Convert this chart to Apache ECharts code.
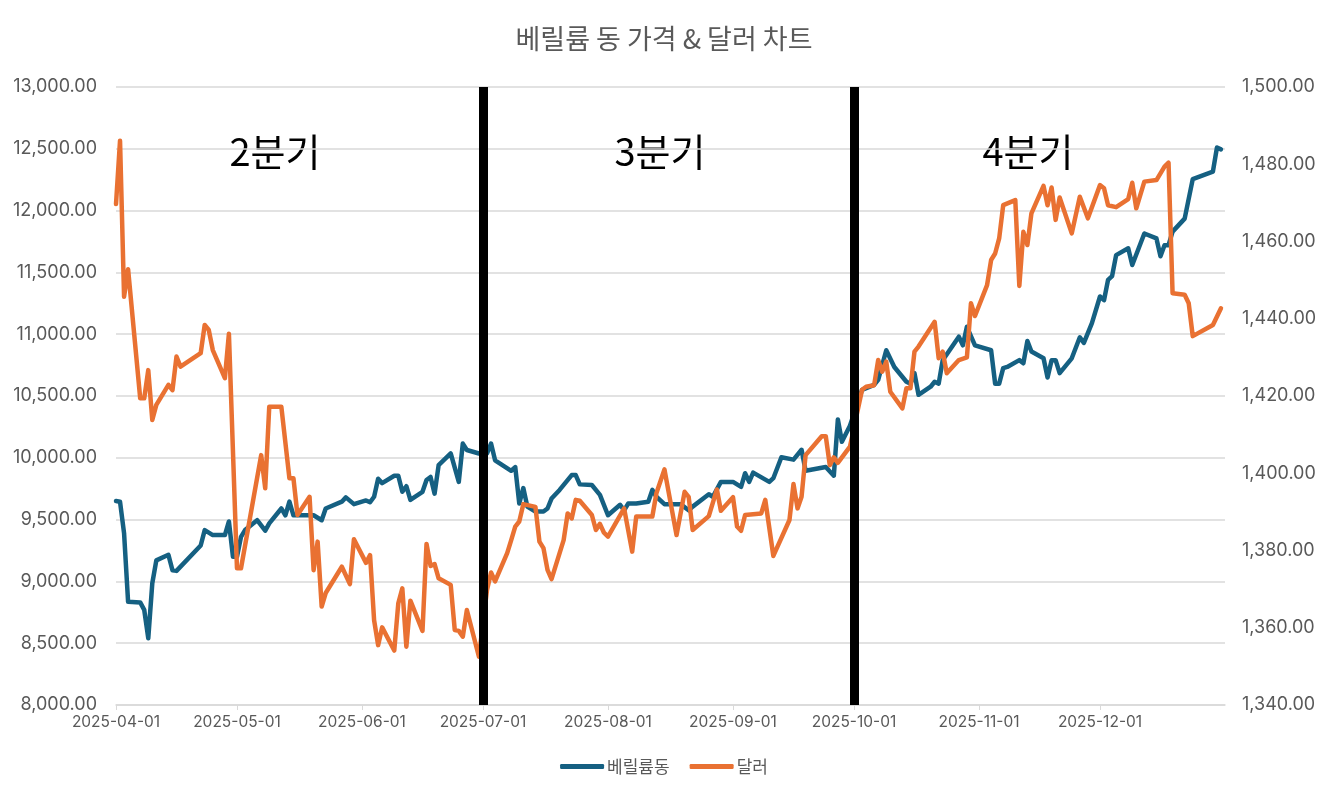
<!DOCTYPE html>
<html>
<head>
<meta charset="utf-8">
<script src="https://cdn.jsdelivr.net/npm/echarts@6/dist/echarts.min.js"></script>
<style>
  html, body { margin: 0; padding: 0; background: #fff; }
  #chart { width: 1328px; height: 797px; }
</style>
</head>
<body>
<div id="chart"></div>
<script>
// 베릴륨동 (left axis)
var cuDates = ['2025-04-01','2025-04-02','2025-04-03','2025-04-04','2025-04-07','2025-04-08','2025-04-09','2025-04-10','2025-04-11','2025-04-14','2025-04-15','2025-04-16','2025-04-22','2025-04-23','2025-04-25','2025-04-28','2025-04-29','2025-04-30',
  '2025-05-01','2025-05-02','2025-05-03','2025-05-06','2025-05-08','2025-05-09','2025-05-12','2025-05-13','2025-05-14','2025-05-15','2025-05-20','2025-05-22','2025-05-23','2025-05-27','2025-05-28','2025-05-30',
  '2025-06-02','2025-06-03','2025-06-04','2025-06-05','2025-06-06','2025-06-09','2025-06-10','2025-06-11','2025-06-12','2025-06-13','2025-06-16','2025-06-17','2025-06-18','2025-06-19','2025-06-20','2025-06-23','2025-06-25','2025-06-26','2025-06-27','2025-06-30',
  '2025-07-01','2025-07-02','2025-07-03','2025-07-04','2025-07-08','2025-07-09','2025-07-10','2025-07-11','2025-07-12','2025-07-14','2025-07-16','2025-07-17','2025-07-18','2025-07-20','2025-07-23','2025-07-24','2025-07-25','2025-07-28','2025-07-30',
  '2025-08-01','2025-08-04','2025-08-05','2025-08-06','2025-08-08','2025-08-11','2025-08-12','2025-08-13','2025-08-15','2025-08-19','2025-08-21','2025-08-22','2025-08-26','2025-08-27','2025-08-29',
  '2025-09-01','2025-09-03','2025-09-04','2025-09-05','2025-09-06','2025-09-10','2025-09-11','2025-09-13','2025-09-16','2025-09-18','2025-09-19','2025-09-24','2025-09-26','2025-09-27','2025-09-28','2025-09-30',
  '2025-10-03','2025-10-06','2025-10-07','2025-10-09','2025-10-11','2025-10-14','2025-10-15','2025-10-16','2025-10-17','2025-10-20','2025-10-21','2025-10-22','2025-10-23','2025-10-27','2025-10-28','2025-10-29','2025-10-31',
  '2025-11-04','2025-11-05','2025-11-06','2025-11-07','2025-11-08','2025-11-11','2025-11-12','2025-11-13','2025-11-14','2025-11-17','2025-11-18','2025-11-19','2025-11-20','2025-11-21','2025-11-24','2025-11-26','2025-11-27','2025-11-29',
  '2025-12-01','2025-12-02','2025-12-03','2025-12-04','2025-12-05','2025-12-08','2025-12-09','2025-12-12','2025-12-15','2025-12-16','2025-12-17','2025-12-18','2025-12-19','2025-12-22','2025-12-24','2025-12-29','2025-12-30','2025-12-31'];
var cuValues = [9650,9645,9390,8835,8830,8770,8540,8985,9170,9215,9090,9085,9290,9415,9375,9375,9485,9200,
  9200,9360,9415,9495,9410,9470,9590,9535,9645,9535,9535,9495,9590,9645,9680,9625,
  9655,9640,9685,9830,9795,9855,9855,9725,9770,9660,9725,9820,9845,9710,9940,10035,9805,10115,10063,10035,
  10035,10035,10115,9980,9895,9925,9630,9755,9605,9565,9565,9590,9670,9740,9860,9860,9785,9780,9700,
  9535,9620,9575,9630,9630,9645,9740,9685,9625,9625,9575,9605,9705,9685,9805,
  9805,9765,9875,9805,9880,9805,9835,10005,9985,10065,9895,9925,9855,10310,10130,10260,
  10550,10590,10630,10870,10735,10615,10600,10685,10510,10575,10615,10600,10790,10980,10910,11060,10910,
  10870,10600,10600,10725,10735,10790,10765,10945,10860,10805,10650,10790,10790,10685,10805,10975,10930,11090,
  11305,11275,11440,11470,11640,11695,11560,11815,11775,11630,11720,11720,11830,11935,12255,12315,12510,12495];

// 달러 (right axis)
var usdDates = ['2025-04-01','2025-04-02','2025-04-03','2025-04-04','2025-04-07','2025-04-08','2025-04-09','2025-04-10','2025-04-11','2025-04-14','2025-04-15','2025-04-16','2025-04-17','2025-04-22','2025-04-23','2025-04-24','2025-04-25','2025-04-28','2025-04-29',
  '2025-05-01','2025-05-02','2025-05-07','2025-05-08','2025-05-09','2025-05-12','2025-05-14','2025-05-15','2025-05-16','2025-05-19','2025-05-20','2025-05-21','2025-05-22','2025-05-23','2025-05-27','2025-05-29','2025-05-30',
  '2025-06-02','2025-06-03','2025-06-04','2025-06-05','2025-06-06','2025-06-09','2025-06-10','2025-06-11','2025-06-12','2025-06-13','2025-06-16','2025-06-17','2025-06-18','2025-06-19','2025-06-20','2025-06-23','2025-06-24','2025-06-25','2025-06-26','2025-06-27','2025-06-30',
  '2025-07-02','2025-07-03','2025-07-04','2025-07-07','2025-07-08','2025-07-09','2025-07-10','2025-07-11','2025-07-14','2025-07-15','2025-07-16','2025-07-17','2025-07-18','2025-07-21','2025-07-22','2025-07-23','2025-07-24','2025-07-25','2025-07-28','2025-07-29','2025-07-30','2025-07-31',
  '2025-08-01','2025-08-05','2025-08-07','2025-08-08','2025-08-12','2025-08-13','2025-08-15','2025-08-18','2025-08-20','2025-08-21','2025-08-22','2025-08-26','2025-08-28','2025-08-29',
  '2025-09-01','2025-09-02','2025-09-03','2025-09-04','2025-09-08','2025-09-09','2025-09-11','2025-09-15','2025-09-16','2025-09-17','2025-09-18','2025-09-19','2025-09-23','2025-09-24','2025-09-25','2025-09-26','2025-09-27','2025-09-30',
  '2025-10-03','2025-10-04','2025-10-06','2025-10-07','2025-10-08','2025-10-09','2025-10-10','2025-10-13','2025-10-14','2025-10-15','2025-10-16','2025-10-17','2025-10-21','2025-10-22','2025-10-23','2025-10-24','2025-10-27','2025-10-29','2025-10-30','2025-10-31',
  '2025-11-03','2025-11-04','2025-11-05','2025-11-06','2025-11-07','2025-11-10','2025-11-11','2025-11-12','2025-11-13','2025-11-14','2025-11-17','2025-11-18','2025-11-19','2025-11-20','2025-11-21','2025-11-24','2025-11-26','2025-11-28',
  '2025-12-01','2025-12-02','2025-12-03','2025-12-05','2025-12-08','2025-12-09','2025-12-10','2025-12-12','2025-12-15','2025-12-17','2025-12-18','2025-12-19','2025-12-22','2025-12-23','2025-12-24','2025-12-29','2025-12-31'];
var usdValues = [1469.7,1486.1,1445.7,1452.8,1419.4,1419.4,1426.7,1413.8,1417.7,1422.9,1421.5,1430.2,1427.6,1431.1,1438.4,1437.1,1431.9,1424.6,1436.1,
  1375.4,1375.4,1404.7,1396.1,1417.2,1417.2,1398.7,1398.7,1389.2,1393.9,1374.9,1382.3,1365.5,1369.0,1375.8,1371.3,1382.9,
  1376.8,1378.8,1362.0,1355.5,1360.1,1354.1,1366.3,1370.2,1355.1,1367.0,1359.2,1381.7,1376.0,1376.5,1372.8,1371.1,1359.4,1359.2,1357.7,1364.6,1352.5,
  1369.8,1374.3,1372.0,1379.3,1382.7,1386.2,1387.5,1392.0,1391.3,1382.3,1380.6,1375.0,1372.6,1382.7,1389.6,1388.3,1393.1,1392.9,1389.2,1385.3,1386.9,1384.6,
  1383.6,1390.9,1379.7,1388.8,1388.8,1394.8,1401.0,1384.0,1395.2,1393.9,1385.3,1388.9,1395.8,1390.3,
  1393.8,1386.2,1385.1,1389.2,1389.6,1393.1,1378.6,1387.9,1397.2,1390.9,1393.9,1404.7,1409.6,1409.6,1402.1,1404.1,1402.7,1406.9,
  1421.6,1422.4,1422.8,1429.3,1426.3,1428.9,1421.1,1416.8,1422.0,1422.0,1431.5,1432.8,1439.2,1429.8,1431.5,1425.9,1429.3,1430.0,1444.0,1440.7,
  1448.7,1455.2,1456.9,1460.8,1469.4,1470.7,1448.5,1462.5,1459.1,1467.3,1474.4,1469.4,1474.0,1465.6,1471.4,1462.1,1471.6,1466.0,
  1474.6,1473.8,1469.4,1468.9,1471.0,1475.2,1468.6,1475.5,1475.9,1479.4,1480.4,1446.6,1446.2,1444.0,1435.5,1438.4,1442.7];

var quarterSplits = ['2025-07-01', '2025-10-01'];
var quarterLabels = ['2분기', '3분기', '4분기'];

var zip = function (d, v) { return d.map(function (x, i) { return [x, v[i]]; }); };
var fmt2 = function (v) {
  return v.toLocaleString('en-US', { minimumFractionDigits: 2, maximumFractionDigits: 2 });
};
var pad = function (n) { return (n < 10 ? '0' : '') + n; };

var axisFont = "Inter, 'Noto Sans CJK KR', sans-serif";
var krFont = "'Noto Sans CJK KR', sans-serif";

var chart = echarts.init(document.getElementById('chart'));
var xMax = +new Date('2026-01-01T00:00:00');

chart.setOption({
  animation: false,
  backgroundColor: '#fff',
  title: {
    text: '베릴륨 동 가격 & 달러 차트',
    left: 'center',
    top: 20,
    textStyle: { fontFamily: krFont, fontSize: 27, fontWeight: 'normal', color: '#595959' }
  },
  legend: {
    bottom: 17,
    left: 'center',
    icon: 'roundRect',
    itemWidth: 44,
    itemHeight: 5,
    itemGap: 20,
    itemStyle: { borderWidth: 0 },
    textStyle: { fontFamily: krFont, fontSize: 17, color: '#595959', padding: [0, 0, 0, -2] },
    data: ['베릴륨동', '달러']
  },
  grid: { left: 116, right: 103, top: 87, bottom: 92, containLabel: false },
  xAxis: {
    type: 'time',
    min: '2025-04-01',
    max: xMax,
    minInterval: 28 * 24 * 3600 * 1000,
    maxInterval: 31 * 24 * 3600 * 1000,
    axisLine: { lineStyle: { color: '#d9d9d9', width: 1.5 } },
    axisTick: { show: true, length: 5, lineStyle: { color: '#d9d9d9' } },
    splitLine: { show: false },
    axisLabel: {
      color: '#595959', fontSize: 15.5, fontFamily: axisFont, margin: 10,
      formatter: function (val) {
        var d = new Date(val);
        if (val >= xMax) return '';
        return d.getFullYear() + '-' + pad(d.getMonth() + 1) + '-' + pad(d.getDate());
      }
    }
  },
  yAxis: [{
    type: 'value',
    min: 8000, max: 13000, interval: 500,
    axisLine: { show: false },
    axisTick: { show: false },
    splitLine: { lineStyle: { color: '#d9d9d9', width: 1.5 } },
    axisLabel: { color: '#595959', fontSize: 18, fontFamily: axisFont, margin: 19, formatter: fmt2 }
  }, {
    type: 'value',
    min: 1340, max: 1500, interval: 20,
    axisLine: { show: false },
    axisTick: { show: false },
    splitLine: { show: false },
    axisLabel: { color: '#595959', fontSize: 18, fontFamily: axisFont, margin: 17, formatter: fmt2 }
  }],
  series: [{
    name: '베릴륨동',
    type: 'line',
    yAxisIndex: 0,
    showSymbol: false,
    symbol: 'none',
    data: zip(cuDates, cuValues),
    itemStyle: { color: '#156082' },
    lineStyle: { color: '#156082', width: 4.5, join: 'round', cap: 'round' },
    z: 3,
    markLine: {
      silent: true,
      symbol: 'none',
      label: { show: false },
      lineStyle: { color: '#000', width: 9, type: 'solid' },
      data: quarterSplits.map(function (d) { return { xAxis: d }; }),
      z: 10
    }
  }, {
    name: '달러',
    type: 'line',
    yAxisIndex: 1,
    showSymbol: false,
    symbol: 'none',
    data: zip(usdDates, usdValues),
    itemStyle: { color: '#E97132' },
    lineStyle: { color: '#E97132', width: 4.5, join: 'round', cap: 'round' },
    z: 4
  }],
  graphic: [
    { type: 'text', x: 275, y: 152, style: { text: quarterLabels[0], fontSize: 38, fontFamily: krFont, fill: '#000', textAlign: 'center', textVerticalAlign: 'middle' } },
    { type: 'text', x: 660, y: 152, style: { text: quarterLabels[1], fontSize: 38, fontFamily: krFont, fill: '#000', textAlign: 'center', textVerticalAlign: 'middle' } },
    { type: 'text', x: 1028, y: 152, style: { text: quarterLabels[2], fontSize: 38, fontFamily: krFont, fill: '#000', textAlign: 'center', textVerticalAlign: 'middle' } }
  ]
});
</script>
</body>
</html>
